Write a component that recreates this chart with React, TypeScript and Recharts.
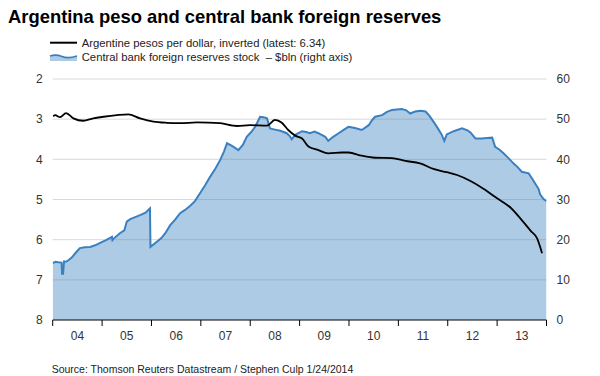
import React from "react";
import { Area, ComposedChart, Line, ReferenceLine, XAxis, YAxis } from "recharts";

const yearTicks = [2004, 2005, 2006, 2007, 2008, 2009, 2010, 2011, 2012, 2013, 2014];
const pesoTicks = [2, 3, 4, 5, 6, 7, 8];
const reserveTicks = [0, 10, 20, 30, 40, 50, 60];
const gridLevels = [2, 3, 4, 5, 6, 7];

// central bank reserves, $bln (right axis)
const reserveDates = [
  2004.0, 2004.06, 2004.11, 2004.18, 2004.19, 2004.21, 2004.23, 2004.27, 2004.33, 2004.39, 2004.47, 2004.55,
  2004.65, 2004.76, 2004.86, 2004.96, 2005.08, 2005.2, 2005.21, 2005.23, 2005.36, 2005.45, 2005.5, 2005.57,
  2005.67, 2005.77, 2005.88, 2005.97, 2005.98, 2006.11, 2006.2, 2006.28, 2006.38, 2006.48, 2006.58, 2006.68,
  2006.78, 2006.88, 2006.98, 2007.09, 2007.19, 2007.29, 2007.39, 2007.47, 2007.53, 2007.64, 2007.76, 2007.85,
  2007.93, 2008.02, 2008.1, 2008.2, 2008.27, 2008.34, 2008.4, 2008.5, 2008.61, 2008.74, 2008.8, 2008.84,
  2008.91, 2009.05, 2009.13, 2009.21, 2009.3, 2009.38, 2009.52, 2009.58, 2009.68, 2009.79, 2009.9, 2009.99,
  2010.12, 2010.26, 2010.4, 2010.47, 2010.53, 2010.67, 2010.77, 2010.87, 2010.97, 2011.07, 2011.16, 2011.24,
  2011.34, 2011.45, 2011.55, 2011.63, 2011.71, 2011.8, 2011.88, 2011.93, 2011.98, 2012.12, 2012.29, 2012.4,
  2012.46, 2012.56, 2012.69, 2012.8, 2012.9, 2012.96, 2013.05, 2013.13, 2013.23, 2013.33, 2013.42, 2013.5,
  2013.64, 2013.72, 2013.77, 2013.84, 2013.87, 2013.94, 2014.0,
];
const reserveValues = [
  14.2, 14.5, 14.4, 14.3, 11.5, 11.5, 14.6, 14.5, 15.0, 15.6, 16.8, 17.9,
  18.1, 18.2, 18.6, 19.2, 19.9, 20.7, 19.9, 20.2, 21.6, 22.3, 24.5, 25.1,
  25.6, 26.1, 26.7, 27.8, 18.2, 19.5, 20.4, 21.6, 23.6, 25.0, 26.6, 27.4,
  28.4, 29.6, 31.5, 33.6, 35.7, 37.6, 39.8, 42.0, 44.0, 43.3, 42.3, 43.6,
  45.6, 46.8, 48.1, 50.6, 50.5, 50.2, 47.7, 47.4, 47.1, 46.5, 45.8, 45.0,
  46.1, 47.0, 46.8, 46.5, 46.9, 46.5, 45.6, 44.6, 45.6, 46.5, 47.4, 48.1,
  47.8, 47.3, 48.5, 49.8, 50.6, 51.0, 51.8, 52.3, 52.4, 52.5, 52.2, 51.4,
  51.9, 52.1, 51.9, 50.8, 49.4, 47.7, 46.1, 44.6, 46.2, 47.0, 47.7, 47.2,
  46.7, 45.2, 45.2, 45.3, 45.4, 43.1, 42.4, 41.5, 40.3, 39.0, 38.0, 36.9,
  36.5, 35.0, 34.0, 32.6, 31.3, 30.1, 29.6,
];

// pesos per dollar (left axis, inverted)
const pesoDates = [
  2004.01, 2004.05, 2004.15, 2004.27, 2004.42, 2004.62, 2004.82, 2005.03, 2005.3, 2005.53, 2005.77, 2006.04,
  2006.31, 2006.58, 2006.92, 2007.39, 2007.73, 2008.0, 2008.34, 2008.5, 2008.64, 2008.77, 2008.91, 2009.05,
  2009.18, 2009.38, 2009.58, 2009.86, 2009.99, 2010.26, 2010.53, 2010.87, 2011.14, 2011.44, 2011.71, 2011.98,
  2012.19, 2012.46, 2012.73, 2013.0, 2013.27, 2013.47, 2013.68, 2013.81, 2013.91,
];
const pesoValues = [
  2.93, 2.9, 2.95, 2.85, 2.98, 3.04, 2.98, 2.94, 2.9, 2.88, 2.98, 3.06,
  3.09, 3.1, 3.08, 3.1, 3.17, 3.15, 3.16, 3.02, 3.09, 3.27, 3.41, 3.48,
  3.68, 3.77, 3.85, 3.83, 3.83, 3.91, 3.96, 3.97, 4.04, 4.1, 4.24, 4.32,
  4.39, 4.54, 4.74, 4.97, 5.2, 5.47, 5.78, 5.97, 6.34,
];

const reserveData = reserveDates.map((t, i) => ({ t, reserves: reserveValues[i] }));
const pesoData = pesoDates.map((t, i) => ({ t, peso: pesoValues[i] }));

const FONT = "'Liberation Sans', Arial, sans-serif";
const AREA_FILL = "#aecbe5";
const AREA_LINE = "#3a80c0";

function YearTick(props: any) {
  const { x, y, payload } = props;
  if (payload.value >= 2014) return null;
  return (
    <text x={x + 24.7} y={y} dy={12} textAnchor="middle" fill="#333" fontSize={12} fontFamily={FONT}>
      {String(payload.value).slice(2)}
    </text>
  );
}

export default function App() {
  return (
    <div style={{ position: "absolute", left: 0, top: 0, width: 600, height: 376, background: "#fff" }}>
      <ComposedChart width={600} height={376} margin={{ top: 79, right: 13.5, bottom: 26, left: 12.7 }}>
        <XAxis
          dataKey="t"
          type="number"
          domain={[2004, 2014]}
          ticks={yearTicks}
          allowDataOverflow
          axisLine={{ stroke: "#000", strokeWidth: 1 }}
          tickLine={{ stroke: "#000", strokeWidth: 1 }}
          tickSize={6}
          tick={<YearTick />}
          height={30}
        />
        <YAxis
          yAxisId="left"
          orientation="left"
          reversed
          domain={[2, 8]}
          ticks={pesoTicks}
          axisLine={false}
          tickLine={false}
          tickSize={0}
          tickMargin={10}
          width={40}
          tick={{ fill: "#333", fontSize: 12, fontFamily: FONT }}
        />
        <YAxis
          yAxisId="right"
          orientation="right"
          domain={[0, 60]}
          ticks={reserveTicks}
          axisLine={false}
          tickLine={false}
          tickSize={0}
          tickMargin={10}
          width={40}
          tick={{ fill: "#333", fontSize: 12, fontFamily: FONT, textAnchor: "start" }}
        />
        <Area
          yAxisId="right"
          data={reserveData}
          dataKey="reserves"
          type="linear"
          fill={AREA_FILL}
          fillOpacity={1}
          stroke={AREA_LINE}
          strokeWidth={2}
          isAnimationActive={false}
          dot={false}
          activeDot={false}
        />
        {gridLevels.map((v) => (
          <ReferenceLine key={v} yAxisId="left" y={v} stroke="rgba(120,120,120,0.28)" strokeWidth={1} />
        ))}
        <Line
          yAxisId="left"
          data={pesoData}
          dataKey="peso"
          type="monotone"
          stroke="#000"
          strokeWidth={1.8}
          dot={false}
          activeDot={false}
          isAnimationActive={false}
        />
      </ComposedChart>
      <svg width={600} height={376} style={{ position: "absolute", left: 0, top: 0, pointerEvents: "none" }}>
        <text x={8} y={22.7} fontSize={18.4} fontWeight="bold" fill="#000" fontFamily={FONT}>
          Argentina peso and central bank foreign reserves
        </text>
        <line x1={50} x2={77} y1={42.7} y2={42.7} stroke="#000" strokeWidth={2} />
        <text x={81.7} y={46.7} fontSize={11.3} fill="#222" fontFamily={FONT}>
          Argentine pesos per dollar, inverted (latest: 6.34)
        </text>
        <path d="M50 56 Q56 54 62 56.5 T77 56 L77 61 L50 61 Z" fill={AREA_FILL} />
        <path d="M50 56 Q56 54 62 56.5 T77 56" fill="none" stroke={AREA_LINE} strokeWidth={1.6} />
        <text x={81.7} y={61} fontSize={11.3} fill="#222" fontFamily={FONT} xmlSpace="preserve">
          Central bank foreign reserves stock {"\u00a0"}– $bln (right axis)
        </text>
        <text x={51.7} y={372.5} fontSize={10.5} fill="#222" fontFamily={FONT}>
          Source: Thomson Reuters Datastream / Stephen Culp 1/24/2014
        </text>
      </svg>
    </div>
  );
}
